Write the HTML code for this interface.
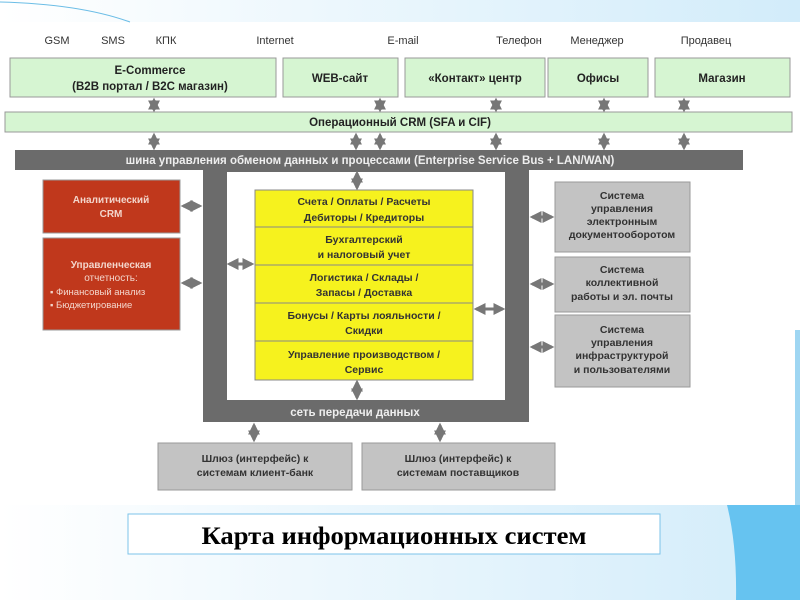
<!DOCTYPE html>
<html><head><meta charset="utf-8"><style>
body{margin:0;width:800px;height:600px;overflow:hidden;background:#fff;font-family:"Liberation Sans",sans-serif}
</style></head><body>
<svg width="800" height="600" xmlns="http://www.w3.org/2000/svg" style="position:absolute;left:0;top:0">
<defs>
<linearGradient id="bg" x1="0" x2="1"><stop offset="0" stop-color="#ffffff"/><stop offset="1" stop-color="#d2ecfa"/></linearGradient>
<marker id="ah" viewBox="0 0 10 10" refX="8" refY="5" markerWidth="4" markerHeight="4" orient="auto-start-reverse"><path d="M0,0L10,5L0,10z" fill="#777"/></marker>
</defs>
<rect x="0" y="0" width="800" height="22" fill="url(#bg)"/>
<path d="M0,2 Q80,4 130,22" stroke="#6bbde6" fill="none"/>
<rect x="0" y="505" width="800" height="95" fill="url(#bg)"/>
<path d="M727,505 Q737,545 736,600 L800,600 L800,505Z" fill="#66c3f0"/>
<rect x="795" y="330" width="5" height="175" fill="#9fd6f2"/>
<g font-size="11" fill="#333" text-anchor="middle">
<text x="57" y="44">GSM</text><text x="113" y="44">SMS</text><text x="166" y="44">КПК</text>
<text x="275" y="44">Internet</text><text x="403" y="44">E-mail</text><text x="519" y="44">Телефон</text>
<text x="597" y="44">Менеджер</text><text x="706" y="44">Продавец</text>
</g>
<g fill="#d6f5d2" stroke="#999">
<rect x="10" y="58" width="266" height="39"/><rect x="283" y="58" width="115" height="39"/>
<rect x="405" y="58" width="140" height="39"/><rect x="548" y="58" width="100" height="39"/>
<rect x="655" y="58" width="135" height="39"/>
<rect x="5" y="112" width="787" height="20"/>
</g>
<g font-size="11.5" font-weight="bold" fill="#222" text-anchor="middle">
<text x="150" y="74">E-Commerce</text><text x="150" y="90">(B2B портал / B2C магазин)</text>
<text x="340" y="82">WEB-сайт</text><text x="475" y="82">«Контакт» центр</text>
<text x="598" y="82">Офисы</text><text x="722" y="82">Магазин</text>
<text x="400" y="126">Операционный CRM (SFA и CIF)</text>
</g>
<rect x="15" y="150" width="728" height="20" fill="#6b6b6b"/>
<text x="370" y="164" font-size="11.5" font-weight="bold" fill="#eee" text-anchor="middle">шина управления обменом данных и процессами (Enterprise Service Bus + LAN/WAN)</text>
<rect x="203" y="170" width="326" height="252" fill="#6b6b6b"/>
<rect x="227" y="172" width="278" height="228" fill="#fff"/>
<text x="355" y="416" font-size="11.5" font-weight="bold" fill="#eee" text-anchor="middle">сеть передачи данных</text>
<g fill="#f6f21e" stroke="#888">
<rect x="255" y="190" width="218" height="37"/><rect x="255" y="227" width="218" height="38"/>
<rect x="255" y="265" width="218" height="38"/><rect x="255" y="303" width="218" height="38"/>
<rect x="255" y="341" width="218" height="39"/>
</g>
<g font-size="10.5" font-weight="bold" fill="#333" text-anchor="middle">
<text x="364" y="205">Счета / Оплаты / Расчеты</text><text x="364" y="221">Дебиторы / Кредиторы</text>
<text x="364" y="243">Бухгалтерский</text><text x="364" y="258">и налоговый учет</text>
<text x="364" y="281">Логистика / Склады /</text><text x="364" y="296">Запасы / Доставка</text>
<text x="364" y="319">Бонусы / Карты лояльности /</text><text x="364" y="334">Скидки</text>
<text x="364" y="358">Управление производством /</text><text x="364" y="373">Сервис</text>
</g>
<g fill="#c0381c" stroke="#999">
<rect x="43" y="180" width="137" height="53"/><rect x="43" y="238" width="137" height="92"/>
</g>
<g font-size="10" font-weight="bold" fill="#f3d6cc" text-anchor="middle">
<text x="111" y="203">Аналитический</text><text x="111" y="217">CRM</text>
<text x="111" y="268">Управленческая</text><text x="111" y="281" font-weight="normal">отчетность:</text>
</g>
<g font-size="9.5" fill="#f3d6cc"><text x="50" y="295">▪ Финансовый анализ</text><text x="50" y="308">▪ Бюджетирование</text></g>
<g fill="#c3c3c3" stroke="#999">
<rect x="555" y="182" width="135" height="70"/><rect x="555" y="257" width="135" height="55"/>
<rect x="555" y="315" width="135" height="72"/>
<rect x="158" y="443" width="194" height="47"/><rect x="362" y="443" width="193" height="47"/>
</g>
<g font-size="10.5" font-weight="bold" fill="#333" text-anchor="middle">
<text x="622" y="199">Система</text><text x="622" y="212">управления</text><text x="622" y="225">электронным</text><text x="622" y="238">документооборотом</text>
<text x="622" y="273">Система</text><text x="622" y="286">коллективной</text><text x="622" y="300">работы и эл. почты</text>
<text x="622" y="333">Система</text><text x="622" y="346">управления</text><text x="622" y="359">инфраструктурой</text><text x="622" y="373">и пользователями</text>
<text x="255" y="462">Шлюз (интерфейс) к</text><text x="255" y="476">системам клиент-банк</text>
<text x="458" y="462">Шлюз (интерфейс) к</text><text x="458" y="476">системам поставщиков</text>
</g>
<g stroke="#777" stroke-width="3" marker-start="url(#ah)" marker-end="url(#ah)">
<line x1="154" y1="100" x2="154" y2="110"/><line x1="380" y1="100" x2="380" y2="110"/><line x1="496" y1="100" x2="496" y2="110"/>
<line x1="604" y1="100" x2="604" y2="110"/><line x1="684" y1="100" x2="684" y2="110"/>
<line x1="154" y1="135" x2="154" y2="148"/><line x1="380" y1="135" x2="380" y2="148"/><line x1="356" y1="135" x2="356" y2="148"/>
<line x1="496" y1="135" x2="496" y2="148"/><line x1="604" y1="135" x2="604" y2="148"/><line x1="684" y1="135" x2="684" y2="148"/>
<line x1="357" y1="173" x2="357" y2="188"/><line x1="357" y1="382" x2="357" y2="398"/>
<line x1="183" y1="206" x2="200" y2="206"/><line x1="183" y1="283" x2="200" y2="283"/>
<line x1="229" y1="264" x2="252" y2="264"/><line x1="476" y1="309" x2="503" y2="309"/>
<line x1="532" y1="217" x2="552" y2="217"/><line x1="532" y1="284" x2="552" y2="284"/><line x1="532" y1="347" x2="552" y2="347"/>
<line x1="254" y1="425" x2="254" y2="440"/><line x1="440" y1="425" x2="440" y2="440"/>
</g>
<rect x="128" y="514" width="532" height="40" fill="#fff" stroke="#7cc3ea"/>
<text x="394" y="544" font-family="Liberation Serif,serif" font-weight="bold" font-size="25" text-anchor="middle" fill="#000" textLength="385" lengthAdjust="spacingAndGlyphs">Карта информационных систем</text>
</svg>
</body></html>
